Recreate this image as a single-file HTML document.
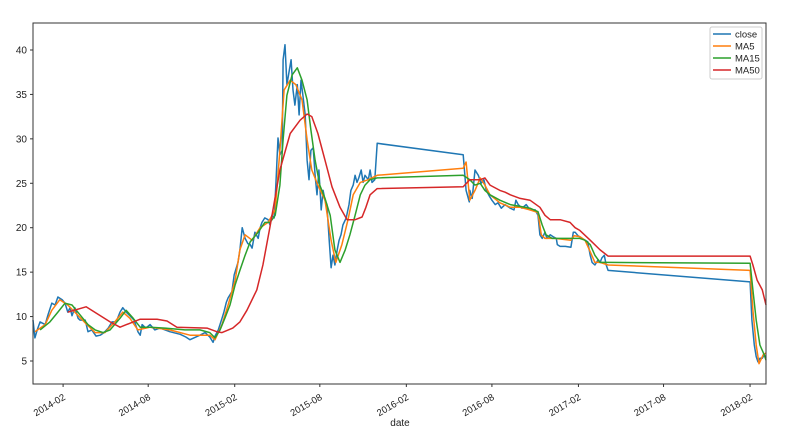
<!DOCTYPE html>
<html><head><meta charset="utf-8"><style>
body{margin:0;background:#fff;}
svg{display:block;font-family:"Liberation Sans","DejaVu Sans",sans-serif;}
</style></head><body>
<svg id="chart" width="787" height="441" viewBox="0 0 787 441" xmlns="http://www.w3.org/2000/svg">
<rect width="787" height="441" fill="#fff"/>
<g id="grid"></g>
<g id="series"></g>
<rect x="33" y="23" width="733" height="361" fill="none" stroke="#333" stroke-width="1"/>
<g id="axes"></g>
<text x="400" y="426" font-size="10" text-anchor="middle" fill="#222">date</text>
<g>
<rect x="710" y="27" width="52" height="52" fill="#fff" stroke="#ccc" rx="2"/>
<g><line x1="713" y1="34" x2="731" y2="34" stroke="#1f77b4" stroke-width="1.5"/><text x="735" y="37.5" font-size="9.5" fill="#222">close</text></g>
<g><line x1="713" y1="46" x2="731" y2="46" stroke="#ff7f0e" stroke-width="1.5"/><text x="735" y="49.5" font-size="9.5" fill="#222">MA5</text></g>
<g><line x1="713" y1="58" x2="731" y2="58" stroke="#2ca02c" stroke-width="1.5"/><text x="735" y="61.5" font-size="9.5" fill="#222">MA15</text></g>
<g><line x1="713" y1="70" x2="731" y2="70" stroke="#d62728" stroke-width="1.5"/><text x="735" y="73.5" font-size="9.5" fill="#222">MA50</text></g>
</g>
</svg>
<script>
// days since 2013-11-29
const closeDays=[0,4,9,15,26,32,40,47,53,62,68,74,79,83,89,96,100,111,117,125,134,143,151,160,168,177,185,191,198,206,215,223,228,232,240,249,259,270,281,291,313,325,334,355,366,376,383,387,394,402,406,411,415,423,428,436,440,445,451,457,462,466,472,479,483,487,493,500,504,508,513,517,521,525,530,532,536,540,545,549,553,557,562,566,570,574,579,583,587,591,596,600,604,608,613,617,621,625,630,634,638,642,647,651,655,659,666,672,676,681,685,689,693,698,702,706,713,717,721,727,732,915,921,928,929,934,940,947,953,959,964,970,976,983,989,996,1004,1015,1023,1027,1032,1040,1049,1057,1068,1074,1078,1083,1089,1093,1100,1106,1113,1115,1121,1132,1144,1149,1153,1159,1168,1174,1180,1185,1189,1195,1202,1206,1210,1215,1219,1223,1525,1529,1534,1538,1542,1546,1551,1555,1559];
const closeVals=[9.6,7.6,8.5,9.4,9.1,10.2,11.5,11.3,12.2,11.9,11.5,10.5,11.0,10.1,11.0,9.8,9.6,9.6,8.3,8.5,7.8,7.9,8.2,8.7,9.4,9.4,10.5,11.0,10.5,10.1,9.6,8.3,7.9,9.1,8.7,9.1,8.5,8.7,8.5,8.3,8.0,7.7,7.4,7.9,8.2,7.7,7.1,7.8,8.5,9.8,10.5,11.6,12.1,12.8,14.7,16.1,17.5,20.0,18.8,18.2,18.1,17.7,19.5,18.8,20.0,20.6,21.1,20.9,20.3,21.4,21.1,25.4,30.1,28.2,28.7,38.9,40.6,36.1,37.7,38.9,35.5,33.8,36.1,32.7,36.6,34.9,32.7,27.6,25.4,28.7,29.0,25.9,23.7,26.5,22.0,24.2,23.1,22.6,18.6,15.5,16.9,15.8,17.5,18.6,19.2,20.3,21.1,22.6,24.2,24.8,25.9,25.1,25.6,26.5,25.1,25.9,25.4,26.5,25.1,25.4,29.5,28.2,24.2,22.9,24.2,23.3,26.5,25.9,25.0,25.4,24.2,23.6,23.1,22.6,22.8,22.2,22.6,22.2,22.0,23.1,22.6,22.2,22.6,22.0,22.0,21.4,19.2,18.8,19.5,18.8,19.2,19.0,18.8,18.1,17.9,17.9,17.8,19.5,19.5,19.1,18.8,18.6,18.4,16.9,16.1,15.8,16.4,16.1,16.6,16.9,15.8,15.2,13.9,9.6,6.8,5.5,4.9,5.3,5.3,5.7,5.3];
const ma5Days=[4,26,40,57,74,89,111,132,153,174,191,206,223,249,291,334,376,387,402,415,430,440,451,466,483,500,515,525,534,547,559,572,583,593,606,621,634,644,657,670,681,696,713,732,915,921,929,940,951,961,972,993,1015,1036,1057,1074,1081,1089,1110,1144,1151,1163,1174,1185,1195,1206,1223,1525,1531,1538,1544,1553,1559];
const ma5Vals=[8.3,9.1,10.7,11.9,11.3,10.5,9.3,8.2,8.2,9.4,10.5,9.8,8.5,8.8,8.5,7.9,7.9,7.4,9.1,11.3,14.1,17.5,19.2,18.6,20.0,20.6,22.0,28.7,35.5,36.6,36.1,34.4,29.9,26.5,24.8,23.1,18.6,16.1,18.1,20.9,23.7,25.1,25.4,25.9,26.7,27.4,23.1,24.2,25.6,24.8,23.7,22.8,22.3,22.3,22.0,21.7,19.2,18.8,18.8,18.6,19.1,19.0,18.6,17.3,16.1,16.1,15.8,15.2,10.7,6.8,4.7,5.7,5.9];
const ma15Days=[15,36,53,68,83,100,117,132,149,164,185,198,213,228,249,281,323,355,376,387,398,408,419,430,440,451,462,479,493,504,515,525,532,540,551,562,572,583,591,600,610,621,632,642,653,664,674,685,696,706,717,732,915,929,940,951,961,972,993,1015,1036,1057,1074,1083,1091,1104,1144,1163,1174,1185,1195,1206,1223,1525,1531,1538,1546,1555,1559];
const ma15Vals=[8.5,9.4,10.5,11.5,11.3,10.2,9.1,8.5,8.2,8.5,9.8,10.7,9.8,8.8,8.8,8.7,8.5,8.5,8.2,7.6,8.5,9.8,11.3,13.6,15.2,16.9,18.4,19.5,20.6,20.6,21.4,24.8,29.9,34.9,37.2,38.0,36.6,34.4,31.0,27.6,24.8,23.3,21.4,17.5,16.1,17.5,19.2,21.4,23.7,24.8,25.4,25.6,25.9,25.4,24.8,25.0,24.2,23.7,23.1,22.6,22.4,22.2,21.8,20.3,19.2,18.8,18.8,18.8,18.6,18.1,16.9,16.1,16.1,16.0,13.0,9.6,6.8,5.7,5.1];
const ma50Days=[74,113,164,185,213,228,264,285,306,370,391,402,425,440,455,476,489,504,525,547,568,583,593,606,621,636,653,668,685,700,708,717,732,915,929,951,961,972,993,1004,1015,1036,1057,1078,1089,1100,1121,1142,1153,1163,1185,1206,1223,1525,1531,1540,1551,1559];
const ma50Vals=[10.5,11.1,9.4,8.8,9.4,9.7,9.7,9.5,8.8,8.7,8.3,8.2,8.7,9.4,10.7,13.0,15.8,20.1,26.5,30.6,32.1,32.8,32.5,30.6,27.6,24.6,22.3,20.9,20.9,21.2,22.3,23.7,24.4,24.6,25.4,25.4,25.6,24.8,24.2,24.0,23.7,23.3,23.1,22.3,21.4,20.9,20.9,20.6,20.0,19.7,18.6,17.5,16.8,16.8,15.8,14.1,13.0,11.3];
const yTicks=[5,10,15,20,25,30,35,40];
const xTickLabels=["2014-02","2014-08","2015-02","2015-08","2016-02","2016-08","2017-02","2017-08","2018-02"];

const NS="http://www.w3.org/2000/svg";
const base=Date.UTC(2013,10,29);
function xs(d){return 33+d*0.4702;}
function ys(v){return 361-(v-5)*8.886;}
function mk(tag,attrs,parent){const e=document.createElementNS(NS,tag);for(const k in attrs)e.setAttribute(k,attrs[k]);parent.appendChild(e);return e;}
const series=document.getElementById('series');
const axes=document.getElementById('axes');
function drawLine(days,vals,color,name){
  let d='';
  for(let i=0;i<days.length;i++){d+=(i?'L':'M')+xs(days[i]).toFixed(1)+','+ys(vals[i]).toFixed(1);}
  const p=mk('path',{d:d,fill:'none',stroke:color,'stroke-width':1.5,'stroke-linejoin':'round'},series);
  
  
}
drawLine(closeDays,closeVals,'#1f77b4','close-line');
drawLine(ma5Days,ma5Vals,'#ff7f0e','ma5-line');
drawLine(ma15Days,ma15Vals,'#2ca02c','ma15-line');
drawLine(ma50Days,ma50Vals,'#d62728','ma50-line');
yTicks.forEach(v=>{
  const y=ys(v);
  mk('line',{x1:30,x2:33,y1:y,y2:y,stroke:'#333'},axes);
  const t=mk('text',{x:27,y:y+3.5,'font-size':10,'text-anchor':'end',fill:'#222'},axes);
  t.textContent=v;
  
  
});
xTickLabels.forEach(s=>{
  const [yy,mm]=s.split('-').map(Number);
  const d=(Date.UTC(yy,mm-1,1)-base)/864e5;
  const x=xs(d);
  mk('line',{x1:x,x2:x,y1:384,y2:387,stroke:'#333'},axes);
  const t=mk('text',{x:x+3,y:399,'font-size':9.5,'text-anchor':'end',fill:'#222',transform:'rotate(-30 '+(x+3)+' 399)'},axes);
  t.textContent=s;
  
  
});
</script>
</body></html>
